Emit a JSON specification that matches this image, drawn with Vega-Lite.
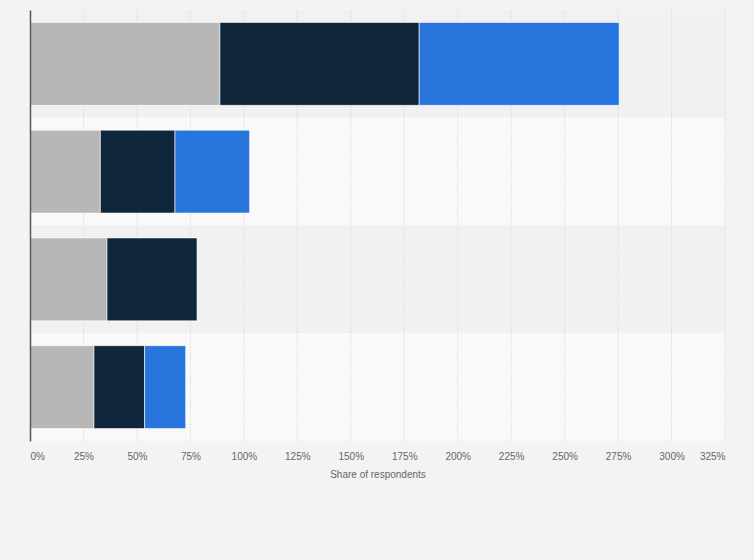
{
  "$schema": "https://vega.github.io/schema/vega-lite/v6.json",
  "autosize": {"type": "none"},
  "padding": {"left": 30, "top": 10, "right": 29, "bottom": 119},
  "width": 695,
  "height": 431,
  "background": "#f3f3f3",
  "datasets": {
    "rows": [
      {"group": "Group 1", "band": "dark"},
      {"group": "Group 2", "band": "light"},
      {"group": "Group 3", "band": "dark"},
      {"group": "Group 4", "band": "light"}
    ],
    "grid": [
      {"v": 0}, {"v": 25}, {"v": 50}, {"v": 75}, {"v": 100}, {"v": 125}, {"v": 150},
      {"v": 175}, {"v": 200}, {"v": 225}, {"v": 250}, {"v": 275}, {"v": 300}, {"v": 325}
    ],
    "shares": [
      {"group": "Group 1", "series": "Series 1", "rank": 1, "share": 88.8},
      {"group": "Group 1", "series": "Series 2", "rank": 2, "share": 93.2},
      {"group": "Group 1", "series": "Series 3", "rank": 3, "share": 93.5},
      {"group": "Group 2", "series": "Series 1", "rank": 1, "share": 32.9},
      {"group": "Group 2", "series": "Series 2", "rank": 2, "share": 34.9},
      {"group": "Group 2", "series": "Series 3", "rank": 3, "share": 34.9},
      {"group": "Group 3", "series": "Series 1", "rank": 1, "share": 36.0},
      {"group": "Group 3", "series": "Series 2", "rank": 2, "share": 42.1},
      {"group": "Group 4", "series": "Series 1", "rank": 1, "share": 29.9},
      {"group": "Group 4", "series": "Series 2", "rank": 2, "share": 23.7},
      {"group": "Group 4", "series": "Series 3", "rank": 3, "share": 19.2}
    ]
  },
  "config": {
    "view": {"stroke": null},
    "font": "Liberation Sans"
  },
  "encoding": {
    "y": {
      "field": "group",
      "type": "nominal",
      "sort": ["Group 1", "Group 2", "Group 3", "Group 4"],
      "scale": {"paddingInner": 0, "paddingOuter": 0},
      "axis": {
        "title": null,
        "labels": false,
        "ticks": false,
        "grid": false,
        "domain": true,
        "domainColor": "#5a5a5a",
        "domainWidth": 1.5,
        "zindex": 1
      }
    }
  },
  "layer": [
    {
      "data": {"name": "rows"},
      "mark": {"type": "rect"},
      "encoding": {
        "x": {"datum": 0, "type": "quantitative"},
        "x2": {"datum": 325},
        "color": {
          "field": "band",
          "type": "nominal",
          "scale": {"domain": ["dark", "light"], "range": ["#f1f1f1", "#f9f9f9"]},
          "legend": null
        }
      }
    },
    {
      "data": {"name": "grid"},
      "mark": {"type": "rule", "color": "#dadada", "strokeDash": [1.5, 1.5], "strokeWidth": 1},
      "encoding": {
        "x": {"field": "v", "type": "quantitative"},
        "y": null
      }
    },
    {
      "data": {"name": "shares"},
      "mark": {
        "type": "bar",
        "height": {"band": 0.77},
        "stroke": "#ffffff",
        "strokeWidth": 1,
        "strokeOpacity": 0.6
      },
      "encoding": {
        "x": {
          "field": "share",
          "type": "quantitative",
          "stack": "zero",
          "scale": {"domain": [0, 325], "nice": false},
          "axis": {
            "title": "Share of respondents",
            "titleFontSize": 10,
            "titleFontWeight": "normal",
            "titleColor": "#666666",
            "titlePadding": 8,
            "values": [0, 25, 50, 75, 100, 125, 150, 175, 200, 225, 250, 275, 300, 325],
            "labelExpr": "datum.value + '%'",
            "labelFlush": true,
            "labelFontSize": 10,
            "labelColor": "#666666",
            "labelPadding": 10,
            "grid": false,
            "ticks": false,
            "domain": false
          }
        },
        "order": {"field": "rank", "type": "quantitative"},
        "color": {
          "field": "series",
          "type": "nominal",
          "scale": {
            "domain": ["Series 1", "Series 2", "Series 3"],
            "range": ["#b7b7b7", "#10263b", "#2876dd"]
          },
          "legend": null
        }
      }
    }
  ],
  "resolve": {"scale": {"color": "independent"}}
}
